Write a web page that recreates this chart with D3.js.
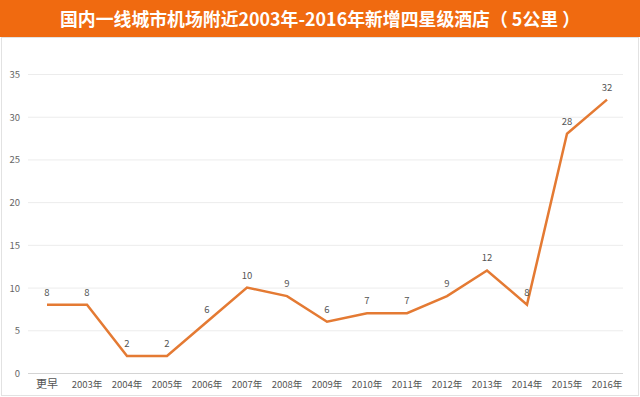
<!DOCTYPE html>
<html>
<head>
<meta charset="utf-8">
<script src="https://cdn.jsdelivr.net/npm/d3@7"></script>
<style>
  body { margin: 0; background: #fff; }
  text { font-family: "Noto Sans CJK SC", "Noto Sans", sans-serif; }
</style>
</head>
<body>
<div id="chart"></div>
<script>
// 数据
const categories = ["更早", "2003年", "2004年", "2005年", "2006年", "2007年", "2008年", "2009年",
  "2010年", "2011年", "2012年", "2013年", "2014年", "2015年", "2016年"];
const values = [8, 8, 2, 2, 6, 10, 9, 6, 7, 7, 9, 12, 8, 28, 32];
const yTicks = [0, 5, 10, 15, 20, 25, 30, 35];
const title = "国内一线城市机场附近2003年-2016年新增四星级酒店（ 5公里 ）";

const W = 640, H = 397;
const svg = d3.select("#chart").append("svg")
  .attr("width", W)
  .attr("height", H);

// 标题栏
svg.append("rect")
  .attr("x", 0).attr("y", 0)
  .attr("width", W).attr("height", 37)
  .attr("fill", "#f06a10");
svg.append("text")
  .attr("x", 320).attr("y", 26)
  .attr("text-anchor", "middle")
  .attr("fill", "#fff")
  .attr("font-size", 18)
  .attr("font-weight", "bold")
  .attr("textLength", 520)
  .attr("lengthAdjust", "spacingAndGlyphs")
  .text(title);

// 外框
svg.append("rect")
  .attr("x", 1.5).attr("y", 37.5)
  .attr("width", W - 3).attr("height", H - 39)
  .attr("fill", "none")
  .attr("stroke", "#e2e2e2");

const x = d3.scaleBand().domain(categories).range([27, 627]);
const y = d3.scaleLinear().domain([0, 35]).range([373, 74]);

// 网格线
svg.append("g").selectAll("line")
  .data(yTicks)
  .join("line")
  .attr("x1", 28).attr("x2", 623)
  .attr("y1", d => y(d) + 0.5).attr("y2", d => y(d) + 0.5)
  .attr("stroke", d => d === 0 ? "#d4d4d4" : "#ececec")
  .attr("stroke-width", 1);

// y轴标签
svg.append("g").selectAll("text")
  .data(yTicks)
  .join("text")
  .attr("x", 20).attr("y", d => y(d) + 4)
  .attr("text-anchor", "end")
  .attr("font-size", 9.5)
  .attr("fill", "#666")
  .text(d => d);

// x轴标签
svg.append("g").selectAll("text")
  .data(categories)
  .join("text")
  .attr("x", d => x(d) + x.bandwidth() / 2)
  .attr("y", 388)
  .attr("text-anchor", "middle")
  .attr("font-size", d => d === "更早" ? 11 : 9.5)
  .attr("fill", "#555")
  .text(d => d);

// 折线
const line = d3.line()
  .x((d, i) => x(categories[i]) + x.bandwidth() / 2)
  .y(d => y(d));

svg.append("path")
  .datum(values)
  .attr("d", line)
  .attr("fill", "none")
  .attr("stroke", "#e47a33")
  .attr("stroke-width", 2.5)
  .attr("stroke-linejoin", "miter");

// 数据标签
svg.append("g").selectAll("text")
  .data(values)
  .join("text")
  .attr("x", (d, i) => x(categories[i]) + x.bandwidth() / 2)
  .attr("y", d => y(d) - 9)
  .attr("text-anchor", "middle")
  .attr("font-size", 9.5)
  .attr("fill", "#555")
  .text(d => d);
</script>
</body>
</html>
